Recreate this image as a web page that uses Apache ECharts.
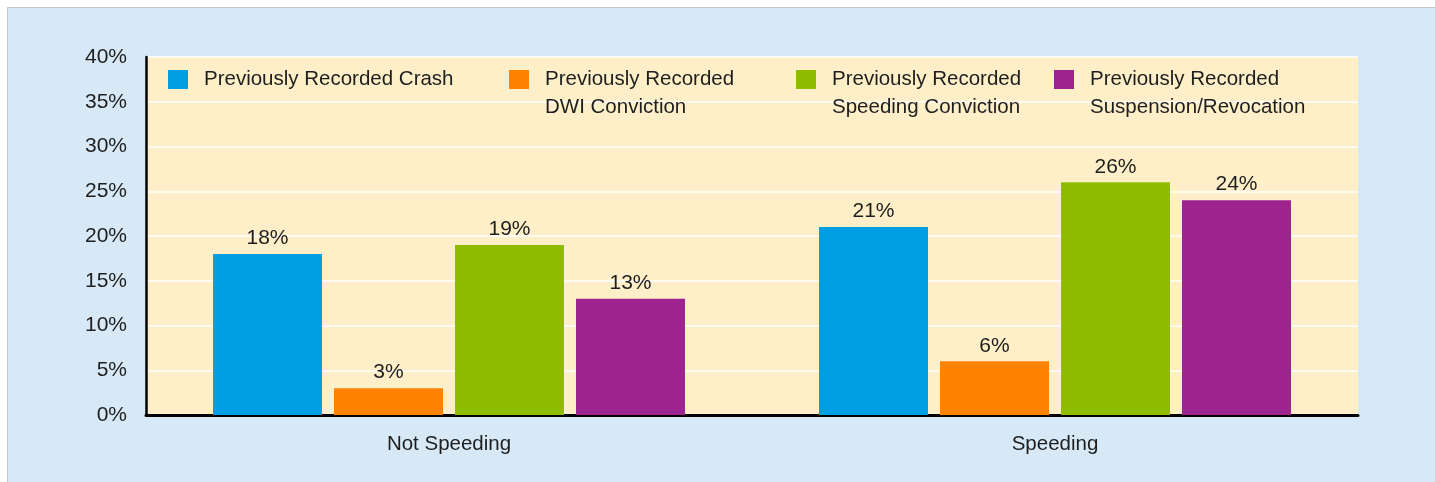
<!DOCTYPE html>
<html>
<head>
<meta charset="utf-8">
<script src="https://cdn.jsdelivr.net/npm/echarts@6/dist/echarts.min.js"></script>
<style>
  html, body { margin: 0; padding: 0; background: #ffffff; }
  #panel {
    position: absolute; left: 7px; top: 7px; right: 0; bottom: 0;
    background: #d7e9f6;
    border-top: 1px solid #c4c4c4;
    border-left: 1px solid #c4c4c4;
  }
  #chart { position: absolute; left: 0; top: 0; width: 1435px; height: 482px; }
</style>
</head>
<body>
<div id="panel"></div>
<div id="chart"></div>
<script>
// Driver groups and the share of drivers with each prior record
const categories = ['Not Speeding', 'Speeding'];
const seriesNames = [
  'Previously Recorded Crash',
  'Previously Recorded DWI Conviction',
  'Previously Recorded Speeding Conviction',
  'Previously Recorded Suspension/Revocation'
];
const legendLabels = [
  'Previously Recorded Crash',
  'Previously Recorded\nDWI Conviction',
  'Previously Recorded\nSpeeding Conviction',
  'Previously Recorded\nSuspension/Revocation'
];
const crashValues = [18, 21];
const dwiValues = [3, 6];
const speedingValues = [19, 26];
const suspensionValues = [13, 24];
const yTicks = [0, 5, 10, 15, 20, 25, 30, 35, 40];

const colors = ['#009fe3', '#ff8300', '#8fbc00', '#9c2390'];
const FONT = "'Liberation Sans', Arial, sans-serif";
const TEXT = '#1e1e1e';

const valueSets = [crashValues, dwiValues, speedingValues, suspensionValues];
const legendLeft = [168, 509, 796, 1054];

const chart = echarts.init(document.getElementById('chart'), null, { renderer: 'canvas' });

// Two-line legend entries get an empty leading line so the swatch sits beside the first line
const legends = seriesNames.map((name, i) => {
  const multi = legendLabels[i].indexOf('\n') >= 0;
  return {
    data: [name],
    left: legendLeft[i],
    top: multi ? 37.5 : 65.5,
    padding: 0,
    orient: 'horizontal',
    icon: 'rect',
    itemWidth: 20,
    itemHeight: 19,
    selectedMode: false,
    formatter: () => (multi ? '\n' : '') + legendLabels[i],
    textStyle: {
      fontFamily: FONT,
      fontSize: 20.5,
      color: TEXT,
      lineHeight: 28,
      padding: [0, 0, 0, 11]
    }
  };
});

const option = {
  animation: false,
  backgroundColor: 'transparent',
  textStyle: { fontFamily: FONT },
  legend: legends,
  grid: {
    left: 146, right: 77, top: 57, bottom: 67,
    show: true, backgroundColor: '#feefc8', borderWidth: 0
  },
  xAxis: {
    type: 'category',
    data: categories,
    axisLine: { lineStyle: { color: '#000', width: 3 } },
    axisTick: { show: false },
    axisLabel: { fontFamily: FONT, fontSize: 20.5, color: TEXT, margin: 19 }
  },
  yAxis: {
    type: 'value',
    min: yTicks[0],
    max: yTicks[yTicks.length - 1],
    interval: yTicks[1] - yTicks[0],
    axisLine: { show: true, lineStyle: { color: '#000', width: 2.5 } },
    axisTick: { show: false },
    splitLine: { lineStyle: { color: '#ffffff', width: 1.5 } },
    axisLabel: {
      fontFamily: FONT, fontSize: 21, color: TEXT, margin: 19,
      formatter: v => v + '%'
    }
  },
  series: seriesNames.map((name, i) => ({
    name,
    type: 'bar',
    data: valueSets[i],
    barWidth: 109,
    barGap: '11%',
    itemStyle: { color: colors[i] },
    label: {
      show: true,
      position: 'top',
      distance: 5,
      fontFamily: FONT,
      fontSize: 21,
      color: TEXT,
      formatter: p => p.value + '%'
    }
  }))
};

chart.setOption(option);
</script>
</body>
</html>
